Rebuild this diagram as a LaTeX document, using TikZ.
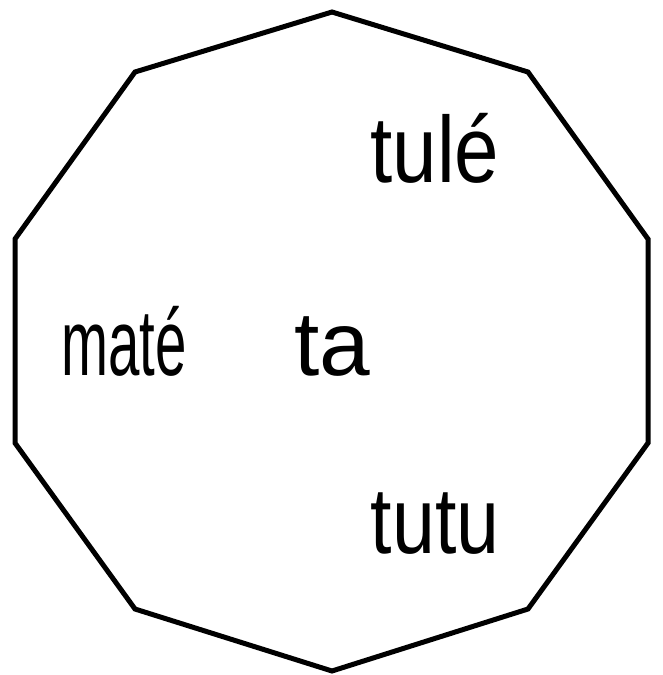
\documentclass[tikz,border=0pt]{standalone}
\usepackage{fontspec}
\setmainfont{Liberation Sans}
\usetikzlibrary{positioning}

\begin{document}
\begin{tikzpicture}[
  x=1pt, y=-1pt,
  rim/.style={draw=black, line width=5pt, line join=miter},
  lbl/.style={anchor=base, inner sep=0pt, font=\fontsize{94}{100}\selectfont},
  nar/.style={lbl, xscale=#1}
]
  \useasboundingbox (0,0) rectangle (662,675);
  % decagon
  \draw[rim] (332,12) -- (528,72) -- (648,239) -- (648,443) -- (528,609)
    -- (332,671) -- (135,609) -- (15,443) -- (15,239) -- (135,72) -- cycle;

  \node[nar=0.85] (tule) at (435,182) {tulé};
  \node[nar=0.60] (mate) at (124,375) {maté};
  \node[lbl, font=\fontsize{91}{100}\selectfont] (ta) at (332,375) {ta};
  \node[nar=0.82] (tutu) at (435,553) {tutu};
\end{tikzpicture}
\end{document}
